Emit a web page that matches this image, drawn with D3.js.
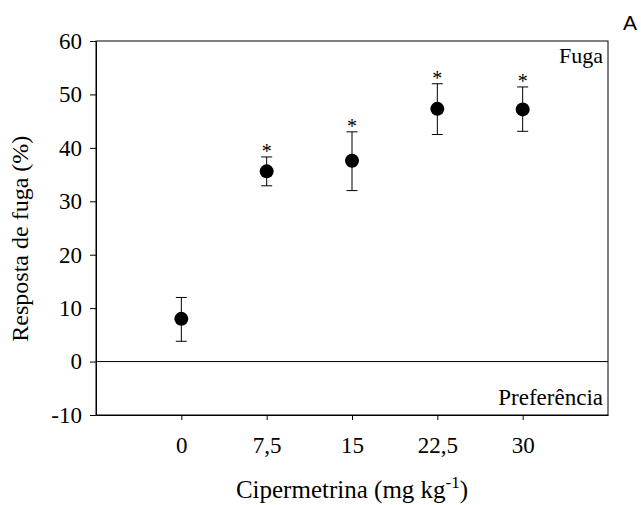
<!DOCTYPE html>
<html>
<head>
<meta charset="utf-8">
<script src="https://cdn.jsdelivr.net/npm/d3@7"></script>
<style>
  body { margin: 0; background: #fff; }
</style>
</head>
<body>
<div id="chart"></div>
<script>
// data
var doses = [0, 7.5, 15, 22.5, 30];
var fuga = [8.0, 35.6, 37.6, 47.3, 47.2];
var errUp = [4.0, 2.7, 5.4, 4.7, 4.2];
var errDown = [4.2, 2.7, 5.6, 4.8, 4.1];
var signif = ["", "*", "*", "*", "*"];
var xTicks = [0, 7.5, 15, 22.5, 30];
var yTicks = [-10, 0, 10, 20, 30, 40, 50, 60];

var margin = {top: 41, right: 33, bottom: 90, left: 96},
    width = 641 - margin.left - margin.right,
    height = 505 - margin.top - margin.bottom;

var svg = d3.select("#chart")
  .append("svg")
    .attr("width", 641)
    .attr("height", 505)
  .append("g")
    .attr("transform", "translate(" + margin.left + "," + margin.top + ")");

var serif = "'Liberation Serif', 'Times New Roman', serif";

var x = d3.scaleLinear()
  .domain([-7.5, 37.5])
  .range([0, width]);

var y = d3.scaleLinear()
  .domain([-10, 60])
  .range([height, 0]);

// frame
svg.append("rect")
  .attr("x", 0).attr("y", 0)
  .attr("width", width).attr("height", height)
  .attr("fill", "none")
  .attr("stroke", "#000")
  .attr("stroke-width", 1);

// X AXIS
var xAxis = svg.append("g")
  .attr("transform", "translate(0," + height + ")")
  .call(d3.axisBottom(x)
    .tickValues(xTicks)
    .tickSize(5)
    .tickPadding(17)
    .tickSizeOuter(0)
    .tickFormat(function(d) { return String(d).replace(".", ","); }));

// Y AXIS
var yAxis = svg.append("g")
  .call(d3.axisLeft(y)
    .tickValues(yTicks)
    .tickSize(6)
    .tickPadding(8)
    .tickSizeOuter(0)
    .tickFormat(function(d) { return String(d); }));

[xAxis, yAxis].forEach(function(a) {
  a.select(".domain").attr("stroke", "#000");
  a.selectAll(".tick line").attr("stroke", "#000");
  a.selectAll(".tick text")
    .attr("font-family", serif)
    .attr("font-size", "23px")
    .attr("fill", "#000");
});

// zero line
svg.append("line")
  .attr("x1", 0).attr("x2", width)
  .attr("y1", y(0)).attr("y2", y(0))
  .attr("stroke", "#000");

// error bars
var capW = 5.5;
var bars = svg.selectAll(".err")
  .data(doses)
  .enter()
  .append("g")
    .attr("class", "err");

bars.append("line")
  .attr("x1", function(d) { return x(d); })
  .attr("x2", function(d) { return x(d); })
  .attr("y1", function(d, i) { return y(fuga[i] + errUp[i]); })
  .attr("y2", function(d, i) { return y(fuga[i] - errDown[i]); })
  .attr("stroke", "#000");

bars.append("line")
  .attr("x1", function(d) { return x(d) - capW; })
  .attr("x2", function(d) { return x(d) + capW; })
  .attr("y1", function(d, i) { return y(fuga[i] + errUp[i]); })
  .attr("y2", function(d, i) { return y(fuga[i] + errUp[i]); })
  .attr("stroke", "#000");

bars.append("line")
  .attr("x1", function(d) { return x(d) - capW; })
  .attr("x2", function(d) { return x(d) + capW; })
  .attr("y1", function(d, i) { return y(fuga[i] - errDown[i]); })
  .attr("y2", function(d, i) { return y(fuga[i] - errDown[i]); })
  .attr("stroke", "#000");

// points
svg.selectAll(".pt")
  .data(doses)
  .enter()
  .append("circle")
    .attr("class", "pt")
    .attr("cx", function(d) { return x(d); })
    .attr("cy", function(d, i) { return y(fuga[i]); })
    .attr("r", 7)
    .attr("fill", "#000");

// asterisks
svg.selectAll(".star")
  .data(doses)
  .enter()
  .append("text")
    .attr("class", "star")
    .attr("x", function(d) { return x(d); })
    .attr("y", function(d, i) { return y(fuga[i] + errUp[i]) + 1; })
    .attr("text-anchor", "middle")
    .attr("font-family", serif)
    .attr("font-size", "20px")
    .text(function(d, i) { return signif[i]; });

// region labels
svg.append("text")
  .attr("x", width - 5)
  .attr("y", 22)
  .attr("text-anchor", "end")
  .attr("font-family", serif)
  .attr("font-size", "22px")
  .text("Fuga");

svg.append("text")
  .attr("x", width - 5)
  .attr("y", height - 10)
  .attr("text-anchor", "end")
  .attr("font-family", serif)
  .attr("font-size", "23px")
  .text("Preferência");

// axis titles
var xt = svg.append("text")
  .attr("x", x(15))
  .attr("y", height + 83)
  .attr("text-anchor", "middle")
  .attr("font-family", serif)
  .attr("font-size", "25px");
xt.append("tspan").text("Cipermetrina (mg kg");
xt.append("tspan").attr("dy", -10).attr("font-size", "17px").text("-1");
xt.append("tspan").attr("dy", 10).text(")");

svg.append("text")
  .attr("transform", "translate(" + (-68) + "," + y(23) + ") rotate(-90)")
  .attr("text-anchor", "middle")
  .attr("font-family", serif)
  .attr("font-size", "24px")
  .text("Resposta de fuga (%)");

// panel letter
svg.append("text")
  .attr("x", width + 15)
  .attr("y", -11)
  .attr("font-family", "'Liberation Sans', Arial, sans-serif")
  .attr("font-size", "21px")
  .text("A");
</script>
</body>
</html>
